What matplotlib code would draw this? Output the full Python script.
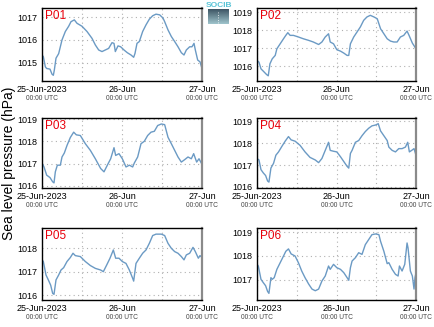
import matplotlib
matplotlib.use("Agg")
import matplotlib.pyplot as plt
import numpy as np

plt.rcParams['font.family'] = ['Liberation Sans', 'DejaVu Sans']

# hours since 25-Jun-2023 00:00 UTC, pressure in hPa
p01_hours = [0, 0.4, 1, 1.4, 2.4, 3, 3.4, 3.7, 4.2, 5, 5.5, 6, 7, 8, 8.7, 9.7, 10.5, 12, 13.5, 15, 16, 17, 18, 19, 20, 21, 21.6, 22, 22.8, 23.6, 24.6, 25.6, 26.7, 27.5, 27.9, 28.5, 29.2, 30.2, 31.2, 32.2, 33.2, 34.2, 35.3, 36.3, 36.8, 37.8, 38.8, 39.8, 40.8, 41.8, 42.6, 43.3, 44.3, 45, 45.6, 46, 46.7, 47.4, 48]
p01_hpa = [1015.34, 1015.27, 1014.82, 1014.75, 1014.72, 1014.5, 1014.45, 1014.68, 1015.2, 1015.4, 1015.7, 1016.0, 1016.37, 1016.6, 1016.8, 1016.88, 1016.73, 1016.6, 1016.37, 1016.07, 1015.78, 1015.56, 1015.49, 1015.56, 1015.63, 1015.88, 1015.85, 1015.49, 1015.74, 1015.7, 1015.56, 1015.44, 1015.34, 1015.24, 1015.41, 1015.85, 1015.93, 1016.37, 1016.66, 1016.91, 1017.06, 1017.13, 1017.1, 1016.96, 1016.8, 1016.44, 1016.15, 1015.93, 1015.7, 1015.44, 1015.34, 1015.56, 1015.7, 1015.7, 1015.85, 1015.56, 1015.12, 1015.04, 1014.75]

p02_hours = [0, 0.6, 1.2, 1.9, 2.9, 3.4, 3.9, 4.6, 5.5, 6, 7, 8, 8.7, 9.3, 10, 11, 12.5, 14, 15.6, 17, 18.6, 19.6, 20.6, 21.6, 22.1, 23.1, 24.1, 25.2, 26.2, 27.2, 27.7, 28.2, 29.2, 30.2, 31.2, 32.2, 33.2, 34.2, 35.3, 36.3, 37.3, 38.3, 39.3, 40.3, 41.3, 42.3, 43.3, 44.3, 45.3, 45.9, 46.9, 48]
p02_hpa = [1016.32, 1016.22, 1015.85, 1015.72, 1015.53, 1015.46, 1016.13, 1016.41, 1016.6, 1016.97, 1017.25, 1017.53, 1017.72, 1017.87, 1017.72, 1017.72, 1017.63, 1017.53, 1017.44, 1017.35, 1017.21, 1017.35, 1017.63, 1017.81, 1017.35, 1017.25, 1016.92, 1016.84, 1016.73, 1016.6, 1016.6, 1017.25, 1017.63, 1017.91, 1018.19, 1018.56, 1018.75, 1018.84, 1018.75, 1018.65, 1018.09, 1017.81, 1017.53, 1017.4, 1017.35, 1017.35, 1017.63, 1017.72, 1017.96, 1017.72, 1017.29, 1016.97]

p03_hours = [0, 0.6, 1.4, 2.4, 3.2, 3.6, 4, 4.6, 5.5, 6, 6.7, 7.5, 8.5, 9.5, 10.3, 11.5, 13, 14.5, 16, 17.6, 18.6, 19.6, 20.6, 21.6, 22.1, 23.1, 24.1, 25.2, 26.2, 27.2, 27.7, 28.7, 29.7, 30.7, 31.7, 32.7, 33.7, 34.7, 35.8, 36.8, 37.8, 38.8, 39.8, 40.8, 41.8, 42.8, 43.8, 44.8, 45.5, 46.4, 47.1, 48]
p03_hpa = [1017.03, 1016.85, 1016.48, 1016.37, 1016.18, 1016.13, 1016.63, 1016.93, 1016.93, 1017.3, 1017.48, 1017.82, 1018.18, 1018.42, 1018.3, 1018.27, 1017.9, 1017.6, 1017.22, 1016.78, 1016.63, 1016.93, 1017.22, 1017.72, 1017.37, 1017.45, 1017.22, 1016.85, 1016.93, 1016.85, 1017.03, 1017.3, 1017.9, 1018.01, 1018.27, 1018.42, 1018.46, 1018.72, 1018.79, 1018.76, 1018.19, 1017.9, 1017.6, 1017.3, 1017.07, 1017.18, 1017.3, 1017.22, 1017.45, 1017.07, 1017.22, 1016.97]

p04_hours = [0, 0.6, 1.2, 1.9, 2.6, 3.2, 3.6, 4.2, 5, 5.7, 6.5, 7.5, 8.5, 9.5, 10.3, 11.5, 13, 14.5, 16, 17.6, 18.6, 19.6, 20.6, 21.6, 22.1, 23.1, 24.1, 25.2, 26.2, 27.2, 27.7, 28.2, 28.7, 29.7, 30.7, 31.7, 32.7, 33.7, 34.7, 35.8, 36.6, 37.3, 38.3, 39.3, 39.8, 40.8, 41.8, 42.8, 43.8, 44.8, 45.5, 46, 46.7, 47.4, 48]
p04_hpa = [1017.3, 1017.23, 1016.79, 1016.64, 1016.52, 1016.27, 1016.22, 1016.86, 1017.08, 1017.45, 1017.6, 1017.85, 1018.09, 1018.3, 1018.15, 1018.09, 1017.9, 1017.6, 1017.35, 1017.23, 1017.11, 1017.3, 1017.67, 1018.04, 1017.67, 1017.63, 1017.6, 1017.38, 1017.16, 1016.94, 1016.86, 1017.53, 1017.67, 1018.04, 1018.12, 1018.34, 1018.53, 1018.68, 1018.79, 1018.83, 1018.89, 1018.56, 1018.34, 1018.12, 1017.82, 1017.67, 1017.6, 1017.75, 1017.75, 1017.82, 1018.04, 1017.6, 1017.67, 1017.75, 1017.45]

p05_hours = [0, 0.4, 1.2, 1.9, 2.6, 3.2, 3.6, 4.2, 5, 5.7, 6.5, 7.5, 8.5, 9.3, 10, 11.5, 13, 14.5, 16, 17.6, 18.4, 19.4, 20.4, 21.4, 22.1, 23.1, 24.1, 25.2, 26.2, 27.2, 27.5, 28.2, 29.2, 30.2, 31.2, 32.2, 33.2, 34.2, 35.8, 36.8, 37.8, 38.8, 39.8, 40.8, 41.8, 42.6, 43.3, 44.3, 45.3, 46, 46.9, 47.4, 48]
p05_hpa = [1017.5, 1017.43, 1016.86, 1016.65, 1016.43, 1016.08, 1016.04, 1016.65, 1016.86, 1017.07, 1017.17, 1017.43, 1017.6, 1017.78, 1017.68, 1017.64, 1017.43, 1017.26, 1017.14, 1017.07, 1017.0, 1017.28, 1017.57, 1017.92, 1017.57, 1017.57, 1017.43, 1017.35, 1017.07, 1016.72, 1016.6, 1017.35, 1017.57, 1017.78, 1017.92, 1018.2, 1018.53, 1018.59, 1018.59, 1018.53, 1018.2, 1017.99, 1017.85, 1017.78, 1017.64, 1017.5, 1017.71, 1017.78, 1018.03, 1017.85, 1017.57, 1017.68, 1017.6]

p06_hours = [0, 0.4, 1.2, 1.9, 2.6, 3.2, 3.6, 4.2, 4.6, 5.2, 6, 7, 8, 8.7, 9.5, 10.3, 11.5, 12.5, 13.5, 14.5, 15.6, 16.6, 17.6, 18.6, 19.6, 20.6, 21.6, 22.1, 23.1, 24.1, 25.2, 26.2, 27.2, 27.7, 28.2, 28.7, 29.7, 30.7, 31.7, 32.7, 33.7, 34.7, 35.8, 36.8, 37.3, 38.3, 39.3, 39.8, 40.8, 41.8, 42.6, 43, 43.8, 44.6, 45.3, 45.6, 46.3, 46.9, 47.4, 47.7, 48]
p06_hpa = [1017.64, 1017.57, 1017.01, 1016.87, 1016.74, 1016.5, 1016.42, 1017.08, 1017.01, 1017.08, 1017.43, 1017.71, 1017.99, 1018.19, 1018.29, 1018.08, 1017.99, 1017.71, 1017.36, 1017.08, 1016.81, 1016.6, 1016.53, 1016.6, 1016.94, 1017.15, 1017.57, 1017.43, 1017.64, 1017.5, 1017.43, 1017.29, 1017.08, 1016.97, 1017.5, 1017.78, 1017.92, 1018.13, 1018.06, 1018.47, 1018.68, 1018.89, 1018.92, 1018.89, 1018.61, 1018.19, 1017.67, 1017.71, 1017.43, 1017.22, 1017.15, 1017.57, 1017.36, 1017.64, 1018.54, 1018.33, 1017.36, 1017.15, 1016.6, 1017.08, 1017.29]

station_names = ["P01", "P02", "P03", "P04", "P05", "P06"]
all_hours = [p01_hours, p02_hours, p03_hours, p04_hours, p05_hours, p06_hours]
all_hpa = [p01_hpa, p02_hpa, p03_hpa, p04_hpa, p05_hpa, p06_hpa]
y_limits = [(1014.2, 1017.4), (1015.17, 1019.25), (1015.9, 1019.06),
            (1015.95, 1019.15), (1015.8, 1018.85), (1016.14, 1019.17)]
tick_hours = [0, 24, 48]
tick_dates = ["25-Jun-2023", "26-Jun", "27-Jun"]

W, H = 435, 327
fig = plt.figure(figsize=(W / 100, H / 100), dpi=100)

# pixel boxes (left, top, right, bottom)
cols = [(42, 202), (257, 416)]
rows = [(8, 81), (118, 188), (228, 300)]

for i, name in enumerate(station_names):
    x0, x1 = cols[i % 2]
    y0, y1 = rows[i // 2]
    ax = fig.add_axes([x0 / W, 1 - y1 / H, (x1 - x0) / W, (y1 - y0) / H])
    ax.plot(all_hours[i], all_hpa[i], color="#6b9ac4", lw=1.0)
    ax.set_xlim(0, 48)
    ax.set_ylim(*y_limits[i])
    lo, hi = y_limits[i]
    ax.set_yticks(np.arange(np.ceil(lo), np.floor(hi) + 1))
    ax.yaxis.set_major_formatter(plt.FormatStrFormatter("%d"))
    ax.set_xticks(tick_hours)
    ax.set_xticklabels(tick_dates)
    ax.set_xticks([12, 36], minor=True)
    ax.tick_params(length=0, labelsize=6.5, pad=3.2, which="both")
    ax.grid(True, which="both", ls=(0, (1, 3)), color="#b0b0b0", lw=0.8)
    for s in ["left", "top", "bottom"]:
        ax.spines[s].set_color("black")
        ax.spines[s].set_linewidth(1.0)
    ax.spines["right"].set_color("#8a8a8a")
    ax.spines["right"].set_linewidth(1.6)
    ax.text(0.02, 0.97, name, transform=ax.transAxes, color="#e8000b",
            fontsize=8.5, ha="left", va="top")
    for h in tick_hours:
        ax.annotate("00:00 UTC", xy=(h, 0), xycoords=("data", "axes fraction"),
                    xytext=(0, -12.5), textcoords="offset points",
                    ha="center", va="center", fontsize=4.8, color="#444444")

fig.text(9 / W, 1 - 163 / H, "Sea level pressure (hPa)", rotation=90,
         ha="center", va="center", fontsize=10)

# small logo top right of the first panel
lax = fig.add_axes([208 / W, 1 - 24 / H, 21 / W, 15 / H])
grad = np.linspace(0, 1, 50).reshape(-1, 1)
lax.imshow(grad, aspect="auto", cmap=matplotlib.colors.LinearSegmentedColormap.from_list(
    "logo", ["#9fc4cc", "#3d5564"]), extent=[0, 1, 0, 1])
lax.plot([0.5, 0.5], [0.2, 0.95], color="white", ls=(0, (1, 2)), lw=0.6)
lax.set_xlim(0, 1)
lax.set_ylim(1, 0)
lax.axis("off")
fig.text(218.5 / W, 1 - 5.5 / H, "SOCIB", ha="center", va="center",
         fontsize=6, color="#58c3d6", fontweight="bold")

fig.savefig("out.png", dpi=100)
